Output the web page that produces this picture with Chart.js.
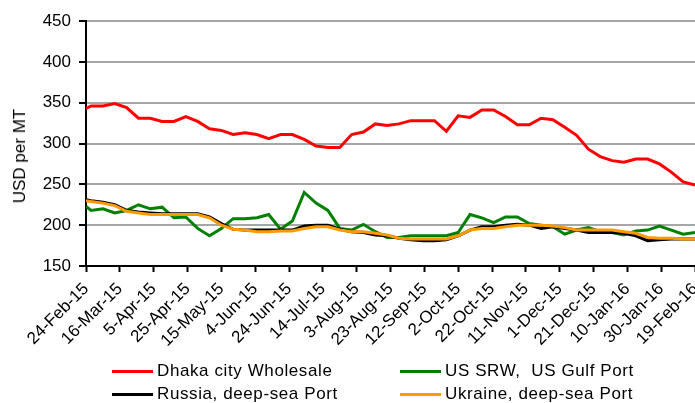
<!DOCTYPE html>
<html>
<head>
<meta charset="utf-8">
<script src="https://cdn.jsdelivr.net/npm/chart.js@4.4.1/dist/chart.umd.min.js"></script>
<style>
    body { margin: 0; background: #fff; font-family: 'Liberation Sans', Arial, sans-serif; }
    #wrap { position: relative; width: 695px; height: 403px; overflow: hidden; }
    #ytitle { position: absolute; left: 20px; top: 156px; transform: translate(-50%, -50%) rotate(-90deg);
              font-size: 17px; white-space: nowrap; color: #000; }
    .leg { position: absolute; height: 20px; font-size: 17px; letter-spacing: 0.6px; color: #000;
           display: flex; align-items: center; white-space: nowrap; }
    .leg .line { display: inline-block; width: 41px; height: 3px; margin-right: 4px; }
</style>
</head>
<body>
<div id="wrap">
    <canvas id="grafico" width="695" height="403"></canvas>
    <div id="ytitle">USD per MT</div>
    <div id="legenda"></div>
</div>
<script>
// datas das leituras (semanais, sextas-feiras)
const datas = [
    '2015-02-24', '2015-02-27', '2015-03-06', '2015-03-13', '2015-03-20', '2015-03-27',
    '2015-04-03', '2015-04-10', '2015-04-17', '2015-04-24', '2015-05-01', '2015-05-08',
    '2015-05-15', '2015-05-22', '2015-05-29', '2015-06-05', '2015-06-12', '2015-06-19',
    '2015-06-26', '2015-07-03', '2015-07-10', '2015-07-17', '2015-07-24', '2015-07-31',
    '2015-08-07', '2015-08-14', '2015-08-21', '2015-08-28', '2015-09-04', '2015-09-11',
    '2015-09-18', '2015-09-25', '2015-10-02', '2015-10-09', '2015-10-16', '2015-10-23',
    '2015-10-30', '2015-11-06', '2015-11-13', '2015-11-20', '2015-11-27', '2015-12-04',
    '2015-12-11', '2015-12-18', '2015-12-25', '2016-01-01', '2016-01-08', '2016-01-15',
    '2016-01-22', '2016-01-29', '2016-02-05', '2016-02-12', '2016-02-19'
];

const tickLabels = ['24-Feb-15', '16-Mar-15', '5-Apr-15', '25-Apr-15', '15-May-15', '4-Jun-15',
    '24-Jun-15', '14-Jul-15', '3-Aug-15', '23-Aug-15', '12-Sep-15', '2-Oct-15', '22-Oct-15',
    '11-Nov-15', '1-Dec-15', '21-Dec-15', '10-Jan-16', '30-Jan-16', '19-Feb-16'];

const dhaka = [343, 346, 346, 349, 344, 331, 331, 327, 327, 333, 327, 318, 316, 311,
    313, 311, 306, 311, 311, 305, 297, 295, 295, 311, 314, 324, 322,
    324, 328, 328, 328, 315, 334, 332, 341, 341, 333, 323, 323, 331,
    329, 320, 310, 293, 284, 279, 277, 281, 281, 275, 265, 253, 249];

const usSrw = [223, 218, 220, 215, 218, 225, 220, 222, 209, 210, 196, 187, 196, 208,
    208, 209, 213, 195, 205, 240, 227, 218, 196, 194, 201, 192, 185,
    185, 187, 187, 187, 187, 191, 213, 209, 203, 210, 210, 202, 200,
    198, 189, 194, 197, 192, 191, 188, 193, 194, 199, 194, 189, 191];

const russia = [231, 230, 228, 225, 218, 216, 215, 214, 214, 214, 214, 210, 202, 195,
    194, 194, 194, 194, 194, 199, 200, 200, 195, 192, 191, 188, 187,
    184, 182, 181, 181, 182, 187, 194, 198, 198, 200, 201, 200, 196,
    198, 196, 194, 191, 191, 191, 190, 187, 181, 182, 183, 183, 183];

const ukraine = [230, 229, 227, 224, 217, 215, 213, 213, 213, 213, 213, 209, 200, 195,
    194, 192, 192, 193, 193, 196, 198, 198, 194, 192, 192, 190, 188,
    184, 183, 183, 183, 183, 187, 194, 196, 196, 198, 200, 200, 200,
    199, 197, 194, 194, 194, 194, 192, 190, 185, 184, 184, 183, 183];

const series = [
    { nome: 'Dhaka city Wholesale', cor: '#ff0000', valores: dhaka, ordem: 3 },
    { nome: 'US SRW,  US Gulf Port', cor: '#008000', valores: usSrw, ordem: 2 },
    { nome: 'Russia, deep-sea Port', cor: '#000000', valores: russia, ordem: 1 },
    { nome: 'Ukraine, deep-sea Port', cor: '#ff9900', valores: ukraine, ordem: 0 }
];

// dias desde a primeira data
const inicio = Date.parse(datas[0]);
const dias = datas.map(d => Math.round((Date.parse(d) - inicio) / 86400000));

// --- LEGENDA (2 colunas) ---
const posLegenda = [[112, 361], [400, 361], [112, 384], [400, 384]];
const legenda = document.getElementById('legenda');
series.forEach((s, i) => {
    const item = document.createElement('div');
    item.className = 'leg';
    item.style.left = posLegenda[i][0] + 'px';
    item.style.top = posLegenda[i][1] + 'px';
    item.innerHTML = '<span class="line" style="background:' + s.cor + '"></span>' + s.nome.replace(/ /g, '&nbsp;');
    legenda.appendChild(item);
});

// --- GRÁFICO ---
Chart.defaults.font.family = "'Liberation Sans', Arial, sans-serif";
Chart.defaults.color = '#000';

new Chart(document.getElementById('grafico').getContext('2d'), {
    type: 'line',
    data: {
        datasets: series.map(s => ({
            label: s.nome,
            data: s.valores.map((v, i) => ({ x: dias[i], y: v })),
            borderColor: s.cor,
            backgroundColor: s.cor,
            borderWidth: 3,
            pointRadius: 0,
            tension: 0,
            fill: false,
            order: s.ordem
        }))
    },
    options: {
        responsive: false,
        animation: false,
        devicePixelRatio: 1,
        layout: { padding: { top: 21, right: 0, bottom: 0, left: 0 } },
        plugins: { legend: { display: false }, tooltip: { enabled: false } },
        scales: {
            x: {
                type: 'linear',
                min: 0,
                max: 360,
                ticks: {
                    stepSize: 20,
                    autoSkip: false,
                    maxRotation: 45,
                    minRotation: 45,
                    padding: 7,
                    font: { size: 17 },
                    callback: v => tickLabels[Math.round(v / 20)]
                },
                grid: { drawOnChartArea: false, tickLength: 6, tickColor: '#000', tickWidth: 2 },
                border: { color: '#000', width: 2 },
                afterFit: s => { s.height = 403 - 266; s.paddingLeft = 0; s.paddingRight = 0; }
            },
            y: {
                min: 150,
                max: 450,
                ticks: { stepSize: 50, padding: 8, font: { size: 17 } },
                grid: { color: '#a6a6a6', lineWidth: 2, tickColor: '#000', tickLength: 7, tickWidth: 2 },
                border: { color: '#000', width: 2 },
                afterFit: s => { s.width = 86; s.paddingTop = 0; s.paddingBottom = 0; }
            }
        }
    }
});
</script>
</body>
</html>
